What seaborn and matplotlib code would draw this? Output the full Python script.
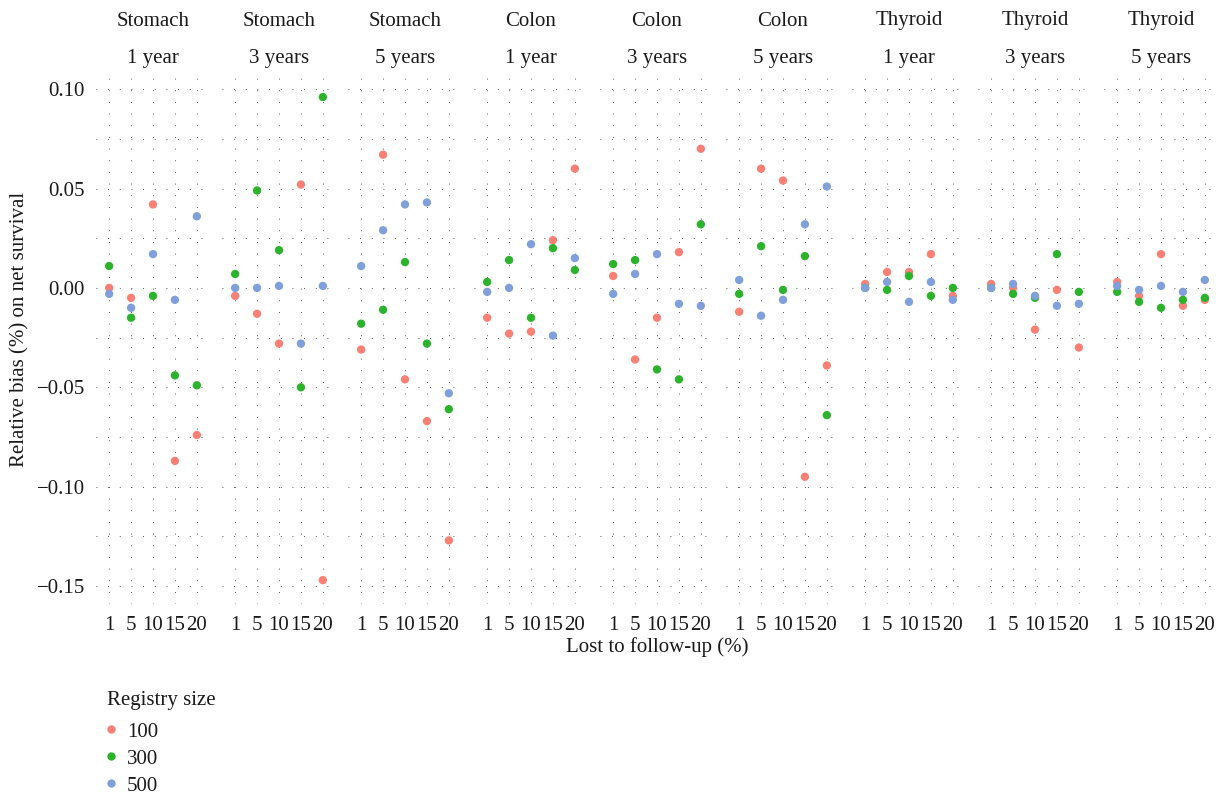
import pandas as pd
import numpy as np
import matplotlib
matplotlib.use('Agg')
import matplotlib.pyplot as plt
from matplotlib.lines import Line2D
from matplotlib.ticker import MultipleLocator, FuncFormatter
import seaborn as sns

sns.set_style("white")
plt.rcParams['font.family'] = ['Liberation Serif', 'DejaVu Serif']
plt.rcParams['axes.unicode_minus'] = True

# 数据：每个面板 5 个失访比例，三种登记规模
sites = ["Stomach", "Colon", "Thyroid"]
horizons = ["1 year", "3 years", "5 years"]
lost = [1, 5, 10, 15, 20]
sizes = [100, 300, 500]
colors = ["#FA7F75", "#2BB32B", "#7FA0DA"]

# 每行对应一个面板（按 sites × horizons 顺序）
bias_100 = [
    [0.000, -0.005, 0.042, -0.087, -0.074],
    [-0.004, -0.013, -0.028, 0.052, -0.147],
    [-0.031, 0.067, -0.046, -0.067, -0.127],
    [-0.015, -0.023, -0.022, 0.024, 0.060],
    [0.006, -0.036, -0.015, 0.018, 0.070],
    [-0.012, 0.060, 0.054, -0.095, -0.039],
    [0.002, 0.008, 0.008, 0.017, -0.004],
    [0.002, 0.000, -0.021, -0.001, -0.030],
    [0.003, -0.004, 0.017, -0.009, -0.006],
]
bias_300 = [
    [0.011, -0.015, -0.004, -0.044, -0.049],
    [0.007, 0.049, 0.019, -0.050, 0.096],
    [-0.018, -0.011, 0.013, -0.028, -0.061],
    [0.003, 0.014, -0.015, 0.020, 0.009],
    [0.012, 0.014, -0.041, -0.046, 0.032],
    [-0.003, 0.021, -0.001, 0.016, -0.064],
    [0.000, -0.001, 0.006, -0.004, 0.000],
    [0.000, -0.003, -0.005, 0.017, -0.002],
    [-0.002, -0.007, -0.010, -0.006, -0.005],
]
bias_500 = [
    [-0.003, -0.010, 0.017, -0.006, 0.036],
    [0.000, 0.000, 0.001, -0.028, 0.001],
    [0.011, 0.029, 0.042, 0.043, -0.053],
    [-0.002, 0.000, 0.022, -0.024, 0.015],
    [-0.003, 0.007, 0.017, -0.008, -0.009],
    [0.004, -0.014, -0.006, 0.032, 0.051],
    [0.000, 0.003, -0.007, 0.003, -0.006],
    [0.000, 0.002, -0.004, -0.009, -0.008],
    [0.001, -0.001, 0.001, -0.002, 0.004],
]

# 整理成长表
rows = []
for size, table in zip(sizes, [bias_100, bias_300, bias_500]):
    k = 0
    for site in sites:
        for hz in horizons:
            for lf, v in zip(lost, table[k]):
                rows.append({"site": site, "horizon": hz, "lost": lf, "size": size, "bias": v})
            k += 1
df = pd.DataFrame(rows)

W, H = 1222, 795
fig = plt.figure(figsize=(W / 100, H / 100), dpi=100)

grid_kw = dict(color="#222222", linewidth=0.6, linestyle=(0, (1, 13)))
fmt = FuncFormatter(lambda v, p: f"{v:.2f}".replace("-", "\u2212"))

panel = 0
for site in sites:
    for hz in horizons:
        left = 96 + panel * 126
        ax = fig.add_axes([left / W, 1 - 604 / H, 114 / W, 530 / H])
        sub = df[(df["site"] == site) & (df["horizon"] == hz)].copy()
        sub["lost"] = sub["lost"].astype(str)
        sns.stripplot(data=sub, x="lost", y="bias", hue="size",
                      order=[str(l) for l in lost], hue_order=sizes,
                      palette=colors, jitter=False, dodge=False, size=6,
                      linewidth=0, ax=ax, legend=False, zorder=3)
        ax.set_xlim(-0.6, 4.6)
        ax.set_ylim(-0.159, 0.1076)
        ax.yaxis.set_major_locator(MultipleLocator(0.05))
        ax.yaxis.set_minor_locator(MultipleLocator(0.025))
        ax.yaxis.set_major_formatter(fmt)
        ax.set_axisbelow(True)
        ax.grid(which="major", axis="both", **grid_kw)
        ax.grid(which="minor", axis="y", **grid_kw)
        ax.tick_params(which="both", length=0, labelsize=15, colors="#1a1a1a")
        ax.tick_params(axis="x", pad=9)
        ax.tick_params(axis="y", pad=8)
        ax.set_xlabel("")
        ax.set_ylabel("")
        if panel > 0:
            ax.tick_params(axis="y", labelleft=False)
        for s in ax.spines.values():
            s.set_visible(False)
        cx = (left + 57) / W
        fig.text(cx, 1 - 21 / H, site, ha="center", va="center", fontsize=15, color="#1a1a1a")
        fig.text(cx, 1 - 58 / H, hz, ha="center", va="center", fontsize=15, color="#1a1a1a")
        panel += 1

fig.text(20 / W, 1 - 329 / H, "Relative bias (%) on net survival", rotation=90,
         ha="center", va="center", fontsize=15, color="#1a1a1a")
fig.text(657 / W, 1 - 647 / H, "Lost to follow-up (%)", ha="center", va="center",
         fontsize=15, color="#1a1a1a")

# 图例：标题单独放，条目放在下面
fig.text(107 / W, 1 - 700 / H, "Registry size", ha="left", va="center",
         fontsize=15, color="#1a1a1a")
handles = [Line2D([], [], marker="o", linestyle="", markersize=6, color=c,
                  markeredgewidth=0) for c in colors]
leg = fig.legend(handles, [str(s) for s in sizes],
                 loc="upper left", bbox_to_anchor=(105 / W, 1 - 722 / H),
                 frameon=False, fontsize=15,
                 handlelength=0.6, handletextpad=0.45, labelspacing=0.36,
                 borderpad=0, borderaxespad=0)
for t in leg.get_texts():
    t.set_color("#1a1a1a")

fig.savefig("out.png", dpi=100)
